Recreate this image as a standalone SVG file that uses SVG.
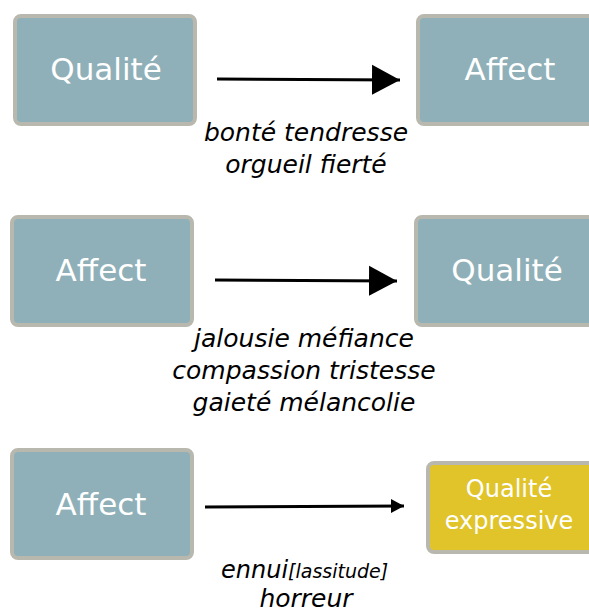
<svg xmlns="http://www.w3.org/2000/svg" width="589" height="610" viewBox="0 0 589 610">
<defs>
<style>
.box{fill:#8fb0b8;stroke:#b9b8ae;stroke-width:4}
.ybox{fill:#e0c42a;stroke:#b9b8ae;stroke-width:4}
.nt{font-family:"DejaVu Sans",sans-serif;font-size:31px;fill:#ffffff;text-anchor:middle}
.yt{font-family:"DejaVu Sans",sans-serif;font-size:24px;fill:#ffffff;text-anchor:middle}
.lb{font-family:"DejaVu Sans",sans-serif;font-style:italic;font-size:25px;fill:#000000;text-anchor:middle}
.st{text-anchor:start;font-size:24px}
.ln{stroke:#000;stroke-width:3;fill:none}
</style>
<marker id="big" markerUnits="userSpaceOnUse" markerWidth="30" markerHeight="32" refX="28" refY="16" orient="auto"><path d="M0,1 L28,16 L0,31 Z" fill="#000"/></marker>
<marker id="small" markerUnits="userSpaceOnUse" markerWidth="14" markerHeight="16" refX="13" refY="8" orient="auto"><path d="M0,1 L13,8 L0,15 Z" fill="#000"/></marker>
</defs>
<g id="connectors">
<line class="ln" x1="217" y1="79" x2="400" y2="80" marker-end="url(#big)"/>
<line class="ln" x1="215" y1="280" x2="397" y2="281" marker-end="url(#big)"/>
<line class="ln" x1="205" y1="507" x2="404" y2="506" marker-end="url(#small)"/>
<text class="lb" x="306" y="141">bonté tendresse</text>
<text class="lb" x="306" y="173">orgueil fierté</text>
<text class="lb" x="304" y="347">jalousie méfiance</text>
<text class="lb" x="304" y="379">compassion tristesse</text>
<text class="lb" x="304" y="411">gaieté mélancolie</text>
<text class="lb st" x="221" y="578">ennui<tspan font-size="19">[lassitude]</tspan></text>
<text class="lb" x="306" y="607" font-size="24">horreur</text>
</g>
<g id="n1"><rect class="box" x="15" y="16" width="180" height="108" rx="6"/><text class="nt" x="106" y="80">Qualité</text></g>
<g id="n2"><rect class="box" x="418" y="16" width="180" height="108" rx="6"/><text class="nt" x="510" y="80">Affect</text></g>
<g id="n3"><rect class="box" x="12" y="217" width="180" height="108" rx="6"/><text class="nt" x="101" y="281">Affect</text></g>
<g id="n4"><rect class="box" x="416" y="217" width="180" height="108" rx="6"/><text class="nt" x="507" y="281">Qualité</text></g>
<g id="n5"><rect class="box" x="12" y="450" width="180" height="108" rx="6"/><text class="nt" x="101" y="515">Affect</text></g>
<g id="n6"><rect class="ybox" x="428" y="463" width="170" height="89" rx="6"/><text class="yt" x="509" y="497">Qualité</text><text class="yt" x="509" y="529">expressive</text></g>
</svg>
